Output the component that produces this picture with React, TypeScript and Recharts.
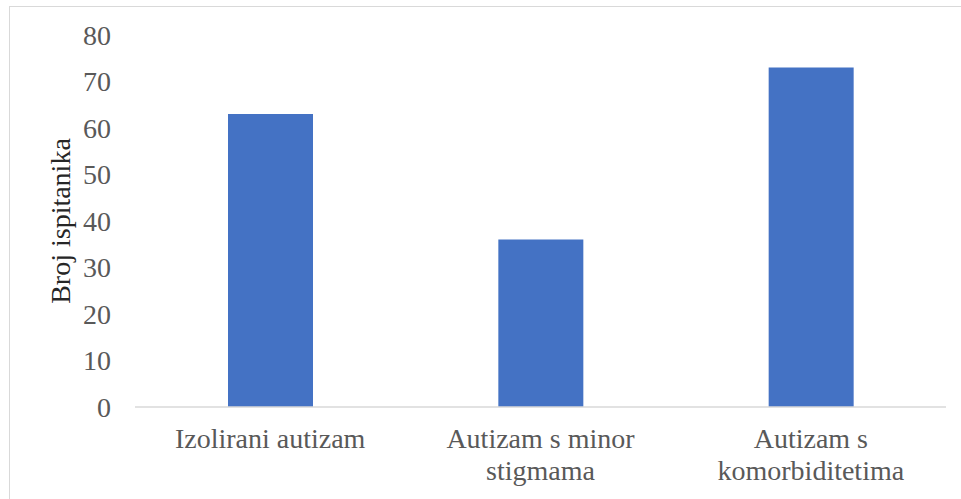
import { Bar, BarChart, Label, XAxis, YAxis } from "recharts";

// Bar chart: number of participants per autism group.
const CATEGORIES = [
  "Izolirani autizam",
  "Autizam s minor stigmama",
  "Autizam s komorbiditetima",
];
const COUNTS = [63, 36, 73];
const Y_TICKS = [0, 10, 20, 30, 40, 50, 60, 70, 80];
const Y_TITLE = "Broj ispitanika";

const data = CATEGORIES.map((name, i) => ({ name, count: COUNTS[i] }));

const SERIF = '"Liberation Serif", "Times New Roman", serif';
const BAR = "#4472c4";
const TICK = "#595959";
const TITLE = "#262626";
const LINE = "#d9d9d9";
const FONT_SIZE = 28;
const WRAP_WIDTH = 240;

// Greedy word wrap measured with a canvas, so long category names break
// onto two lines like the original.
let measureCtx: CanvasRenderingContext2D | null = null;
function wrapLabel(label: string, maxWidth: number): string[] {
  if (!measureCtx) {
    measureCtx = document.createElement("canvas").getContext("2d");
  }
  const ctx = measureCtx!;
  ctx.font = `${FONT_SIZE}px ${SERIF}`;
  const words = label.split(" ");
  const lines: string[] = [];
  let current = "";
  for (const w of words) {
    const next = current ? `${current} ${w}` : w;
    if (current && ctx.measureText(next).width > maxWidth) {
      lines.push(current);
      current = w;
    } else {
      current = next;
    }
  }
  if (current) lines.push(current);
  return lines;
}

function CategoryTick({ x, y, payload }: any) {
  const lines = wrapLabel(String(payload.value), WRAP_WIDTH);
  return (
    <text
      x={x}
      y={y + 41}
      textAnchor="middle"
      fill={TICK}
      fontSize={FONT_SIZE}
      fontFamily={SERIF}
    >
      {lines.map((line, i) => (
        <tspan key={i} x={x} dy={i === 0 ? 0 : 32}>
          {line}
        </tspan>
      ))}
    </text>
  );
}

function YTitle() {
  return (
    <text
      x={70}
      y={221}
      transform="rotate(-90 70 221)"
      textAnchor="middle"
      fill={TITLE}
      fontSize={FONT_SIZE}
      fontFamily={SERIF}
    >
      {Y_TITLE}
    </text>
  );
}

export default function App() {
  return (
    <div
      style={{
        position: "absolute",
        left: 0,
        top: 0,
        width: 961,
        height: 499,
        overflow: "hidden",
        background: "#fff",
      }}
    >
      <div
        style={{
          position: "absolute",
          left: 9,
          top: 6,
          width: 980,
          height: 520,
          border: `1.5px solid ${LINE}`,
          boxSizing: "border-box",
        }}
      />
      <BarChart
        width={961}
        height={499}
        data={data}
        margin={{ top: 35, right: 15, bottom: 0, left: 55 }}
        style={{ position: "absolute", left: 0, top: 0 }}
      >
        <XAxis
          dataKey="name"
          height={92}
          interval={0}
          tickSize={0}
          tickMargin={0}
          tickLine={false}
          axisLine={{ stroke: LINE, strokeWidth: 1.5 }}
          tick={(props: any) => <CategoryTick {...props} />}
        />
        <YAxis
          width={80}
          domain={[0, 80]}
          ticks={Y_TICKS}
          interval={0}
          tickSize={0}
          tickMargin={24}
          tickLine={false}
          axisLine={false}
          tick={{ fill: TICK, fontSize: FONT_SIZE, fontFamily: SERIF }}
        >
          <Label content={<YTitle />} />
        </YAxis>
        <Bar dataKey="count" fill={BAR} barSize={85} isAnimationActive={false} />
      </BarChart>
    </div>
  );
}
